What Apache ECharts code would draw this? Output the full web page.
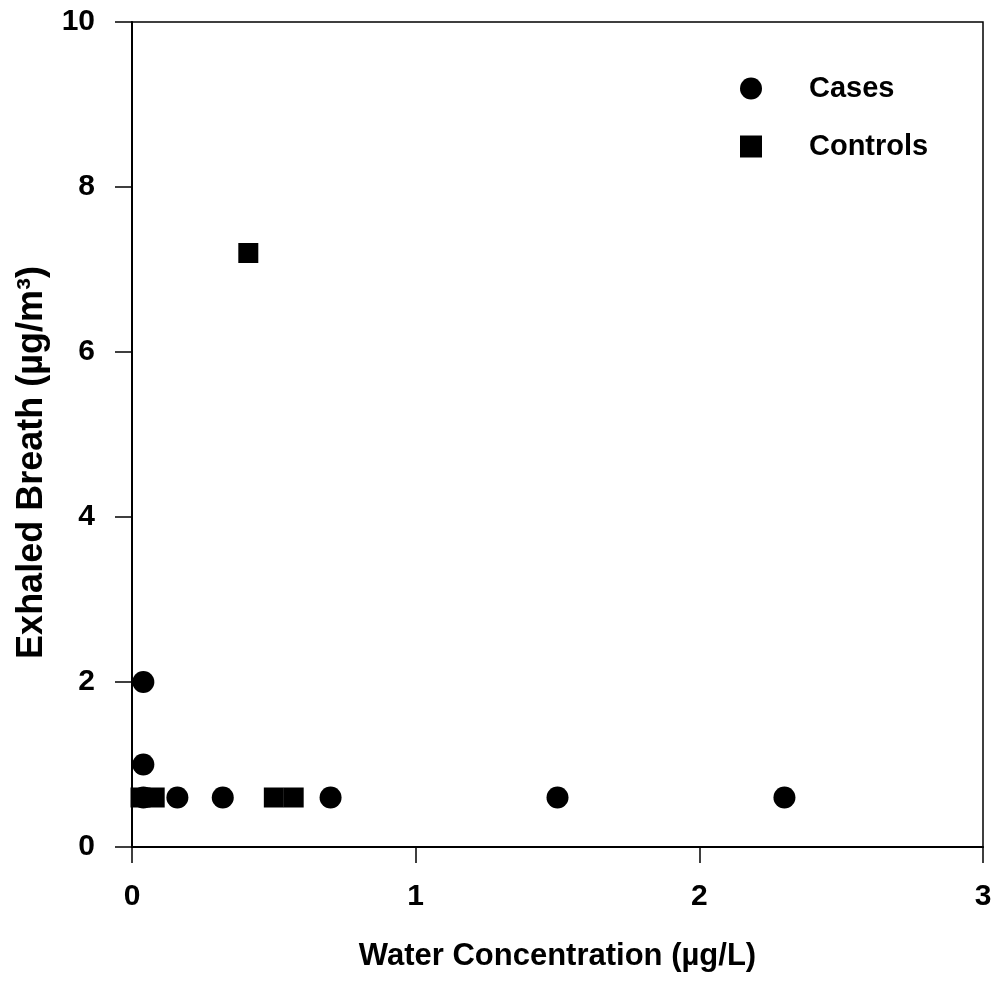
<!DOCTYPE html>
<html>
<head>
<meta charset="UTF-8">
<script src="https://cdn.jsdelivr.net/npm/echarts@6/dist/echarts.min.js"></script>
<style>
  html, body { margin: 0; padding: 0; background: #fff; }
  #main { width: 996px; height: 981px; }
</style>
</head>
<body>
<div id="main"></div>
<script>
// data
var casesX = [0.04, 0.04, 0.04, 0.16, 0.32, 0.70, 1.50, 2.30];
var casesY = [2.0, 1.0, 0.6, 0.6, 0.6, 0.6, 0.6, 0.6];
var controlsX = [0.03, 0.08, 0.50, 0.57, 0.41];
var controlsY = [0.6, 0.6, 0.6, 0.6, 7.2];
var xTicks = [0, 1, 2, 3];
var yTicks = [0, 2, 4, 6, 8, 10];

function pairs(xs, ys) {
    var out = [];
    for (var i = 0; i < xs.length; i++) out.push([xs[i], ys[i]]);
    return out;
}

var font = 'Liberation Sans, Arial, sans-serif';
var chart = echarts.init(document.getElementById('main'));
var option = {
    animation: false,
    backgroundColor: '#fff',
    grid: {
        left: 132, top: 22, right: 13, bottom: 134,
        show: true, borderColor: '#000', borderWidth: 1.5
    },
    legend: {
        orient: 'vertical',
        left: 735, top: 69,
        itemWidth: 22, itemHeight: 22,
        itemGap: 29,
        data: [
            { name: 'Cases', icon: 'circle' },
            { name: 'Controls', icon: 'rect' }
        ],
        textStyle: {
            fontFamily: font, fontSize: 29, fontWeight: 'bold', color: '#000',
            padding: [0, 0, 0, 42]
        }
    },
    xAxis: {
        type: 'value', min: xTicks[0], max: xTicks[xTicks.length - 1], interval: 1,
        name: 'Water Concentration (µg/L)',
        nameLocation: 'middle', nameGap: 94,
        nameTextStyle: { fontFamily: font, fontSize: 31, fontWeight: 'bold', color: '#000' },
        axisLine: { onZero: false, lineStyle: { color: '#000', width: 2 } },
        axisTick: { inside: false, length: 16, lineStyle: { color: '#000', width: 1.5 } },
        axisLabel: { margin: 35, fontFamily: font, fontSize: 30, fontWeight: 'bold', color: '#000' },
        splitLine: { show: false }
    },
    yAxis: {
        type: 'value', min: yTicks[0], max: yTicks[yTicks.length - 1], interval: 2,
        name: 'Exhaled Breath (µg/m³)',
        nameLocation: 'middle', nameGap: 82,
        nameTextStyle: {
            fontFamily: font, fontSize: 36, fontWeight: 'bold', color: '#000',
            padding: [0, 56, 0, 0]
        },
        axisLine: { onZero: false, lineStyle: { color: '#000', width: 2 } },
        axisTick: { inside: false, length: 17, lineStyle: { color: '#000', width: 1.5 } },
        axisLabel: { margin: 37, fontFamily: font, fontSize: 30, fontWeight: 'bold', color: '#000' },
        splitLine: { show: false }
    },
    series: [
        {
            name: 'Cases', type: 'scatter', symbol: 'circle', symbolSize: 22,
            itemStyle: { color: '#000', opacity: 1 },
            data: pairs(casesX, casesY)
        },
        {
            name: 'Controls', type: 'scatter', symbol: 'rect', symbolSize: 20,
            itemStyle: { color: '#000', opacity: 1 },
            data: pairs(controlsX, controlsY)
        }
    ]
};
chart.setOption(option);
</script>
</body>
</html>
